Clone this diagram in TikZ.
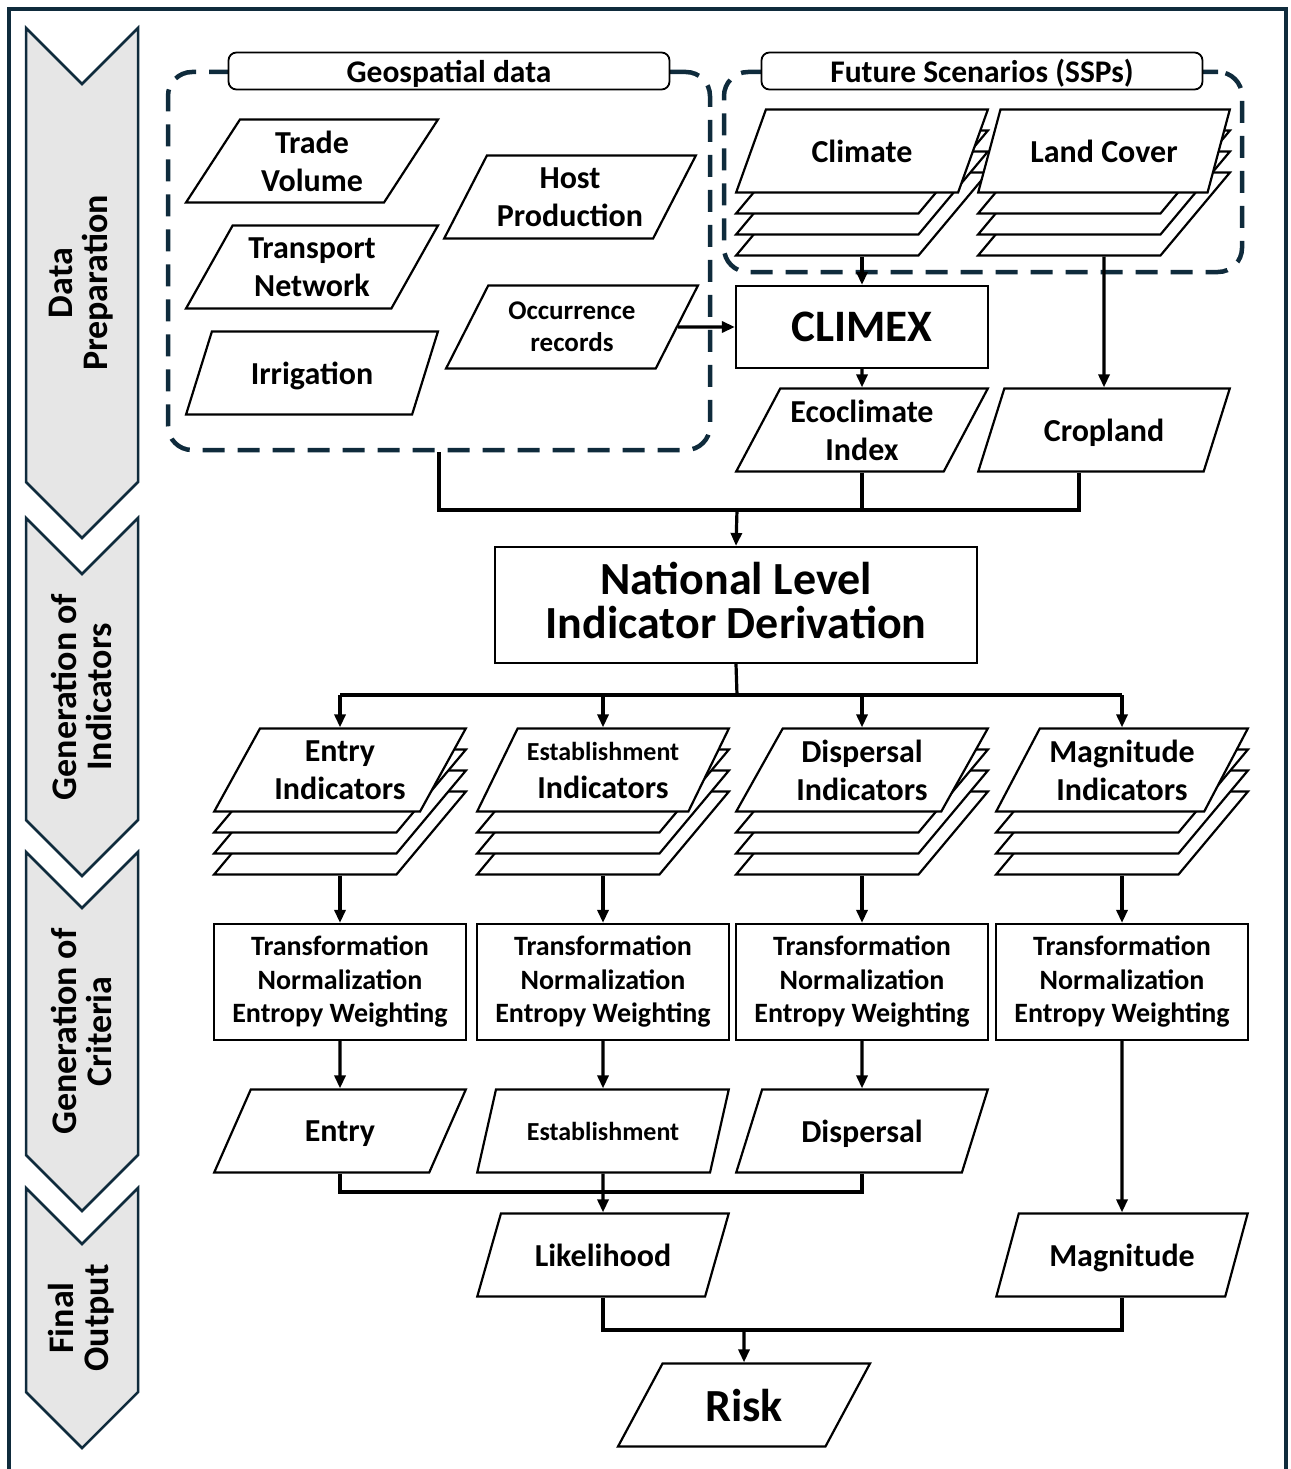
\documentclass[tikz,border=0pt]{standalone}
\usepackage{fontspec}
\setmainfont{Carlito}
\usepackage{tikz}
\usetikzlibrary{arrows.meta,positioning,shapes.geometric,calc}
\definecolor{navy}{HTML}{0F2B3C}
\definecolor{chevgray}{HTML}{E6E6E6}
\newcommand{\labfont}{\bfseries\fontsize{32}{38}\selectfont}
\newcommand{\hdfont}{\bfseries\fontsize{31.5}{34}\selectfont}
\newcommand{\phfont}{\bfseries\fontsize{36}{35}\selectfont}
\newcommand{\trfont}{\bfseries\fontsize{28}{33.5}\selectfont}
\tikzset{
  datanode/.style={trapezium,trapezium left angle=58.4,trapezium right angle=121.6,
    trapezium stretches=true,minimum width=252,minimum height=83,inner sep=2pt,
    text depth=0pt,draw,fill=white,line width=2.2pt,align=center,font=\labfont},
  procnode/.style={rectangle,draw,fill=white,line width=2.2pt,inner sep=0pt,align=center},
  headnode/.style={rectangle,rounded corners=8pt,draw,fill=white,line width=1.8pt,
    minimum width=441,minimum height=37,inner sep=0pt,text depth=0pt,font=\hdfont},
  groupbox/.style={rectangle,rounded corners=24pt,draw=navy,line width=4.5pt,
    dash pattern=on 22pt off 13pt,inner sep=0pt},
  conn/.style={line width=3.2pt},
  arr/.style={line width=3.2pt,-{Triangle[length=13pt,width=11pt]}},
  phase/.style={fill=chevgray,draw=navy,line width=2.5pt,line join=miter},
  phaselab/.style={rotate=90,align=center,font=\phfont}
}

\begin{document}
\begin{tikzpicture}[x=1pt,y=-1pt]
  \useasboundingbox (0,0) rectangle (1290,1469);
  \draw[navy,line width=4pt] (9,1500) -- (9,9) -- (1286,9) -- (1286,1500);

  % phases on the left
  \foreach \ytop/\ybot/\txt in {28/482/{Data\\Preparation},518/820/{Generation of\\Indicators},
      852/1155/{Generation of\\Criteria},1188/1392/{Final\\Output}}{
    \draw[phase] (26,\ytop) -- (82,\ytop+56) -- (138,\ytop) -- (138,\ybot)
      -- (82,\ybot+56) -- (26,\ybot) -- cycle;
    \node[phaselab] at (81,{(\ytop+\ybot)/2+28}) {\txt};
  }

  % input groups
  \node[groupbox,minimum width=542,minimum height=378] (geo) at (439,261) {};
  \node[groupbox,minimum width=518,minimum height=200] (ssp) at (983,172) {};
  \node[headnode] (geohd) at (449,71) {Geospatial data};
  \node[headnode] (ssphd) at (982,71) {Future Scenarios (SSPs)};

  \node[datanode] (trade) at (312,161) {Trade\\Volume};
  \node[datanode] (transp) at (312,267) {Transport\\Network};
  \node[datanode] (irrig) at (312,373) {Irrigation};
  \node[datanode] (host) at (570,197) {Host\\Production};
  \node[datanode,font=\bfseries\fontsize{27}{32}\selectfont] (occ) at (572,327) {Occurrence\\records};

  \foreach \k in {3,2,1}{
    \node[datanode] (clim-\k) at (862,151+21*\k) {};
    \node[datanode] (land-\k) at (1104,151+21*\k) {};
  }
  \node[datanode] (clim) at (862,151) {Climate};
  \node[datanode] (land) at (1104,151) {Land Cover};

  \node[procnode,minimum width=252,minimum height=82,font=\bfseries\fontsize{45}{48}\selectfont] (climex) at (862,327) {CLIMEX};
  \node[datanode] (eco) at (862,430) {Ecoclimate\\Index};
  \node[datanode] (crop) at (1104,430) {Cropland};

  \node[procnode,minimum width=482,minimum height=116,text depth=10pt,font=\bfseries\fontsize{46}{44}\selectfont] (nat) at (736,605) {National Level\\Indicator Derivation};

  % indicators
  \foreach \k in {3,2,1}{
    \node[datanode] (ient-\k) at (340,770+21*\k) {};
    \node[datanode] (iest-\k) at (603,770+21*\k) {};
    \node[datanode] (idis-\k) at (862,770+21*\k) {};
    \node[datanode] (imag-\k) at (1122,770+21*\k) {};
  }
  \node[datanode] (ient) at (340,770) {Entry\\Indicators};
  \node[datanode] (iest) at (603,770) {\fontsize{26}{31}\selectfont Establishment\\\fontsize{32}{36}\selectfont Indicators};
  \node[datanode] (idis) at (862,770) {Dispersal\\Indicators};
  \node[datanode] (imag) at (1122,770) {Magnitude\\Indicators};

  \node[procnode,minimum width=252,minimum height=116,font=\trfont] (tent) at (340,982) {Transformation\\Normalization\\Entropy Weighting};
  \node[procnode,minimum width=252,minimum height=116,font=\trfont] (test) at (603,982) {Transformation\\Normalization\\Entropy Weighting};
  \node[procnode,minimum width=252,minimum height=116,font=\trfont] (tdis) at (862,982) {Transformation\\Normalization\\Entropy Weighting};
  \node[procnode,minimum width=252,minimum height=116,font=\trfont] (tmag) at (1122,982) {Transformation\\Normalization\\Entropy Weighting};

  \node[datanode] (cent) at (340,1131) {Entry};
  \node[datanode,font=\bfseries\fontsize{26}{30}\selectfont] (cest) at (603,1131) {Establishment};
  \node[datanode] (cdis) at (862,1131) {Dispersal};
  \node[datanode] (lik) at (603,1255) {Likelihood};
  \node[datanode] (mag) at (1122,1255) {Magnitude};
  \node[datanode,font=\bfseries\fontsize{46}{48}\selectfont] (risk) at (744,1405) {Risk};

  % connectors
  \draw[arr] (occ.east) -- (climex.west);
  \draw[arr] (clim-3.south) -- (climex.north);
  \draw[arr] (climex.south) -- (eco.north);
  \draw[arr] (land-3.south) -- (crop.north);

  \coordinate (j1) at (737,510);
  \draw[conn] (geo.south) |- (j1) -| ([xshift=-25]crop.south);
  \draw[conn] (eco.south) -- (eco.south |- j1);
  \draw[arr] (j1) -- (nat.north);

  \coordinate (j2) at (737,695);
  \draw[conn] (nat.south) -- (j2);
  \draw[conn] (ient.north |- j2) -- (imag.north |- j2);
  \foreach \n in {ient,iest,idis,imag}
    \draw[arr] (\n.north |- j2) -- (\n.north);

  \draw[arr] (ient-3.south) -- (tent.north);
  \draw[arr] (iest-3.south) -- (test.north);
  \draw[arr] (idis-3.south) -- (tdis.north);
  \draw[arr] (imag-3.south) -- (tmag.north);

  \draw[arr] (tent.south) -- (cent.north);
  \draw[arr] (test.south) -- (cest.north);
  \draw[arr] (tdis.south) -- (cdis.north);
  \draw[arr] (tmag.south) -- (mag.north);

  \coordinate (j3) at (603,1192);
  \draw[conn] (cent.south) |- (j3) -| (cdis.south);
  \draw[arr] (cest.south) -- (lik.north);

  \coordinate (j4) at (744,1330);
  \draw[conn] (lik.south) |- (j4) -| (mag.south);
  \draw[arr] (j4) -- (risk.north);
\end{tikzpicture}
\end{document}
